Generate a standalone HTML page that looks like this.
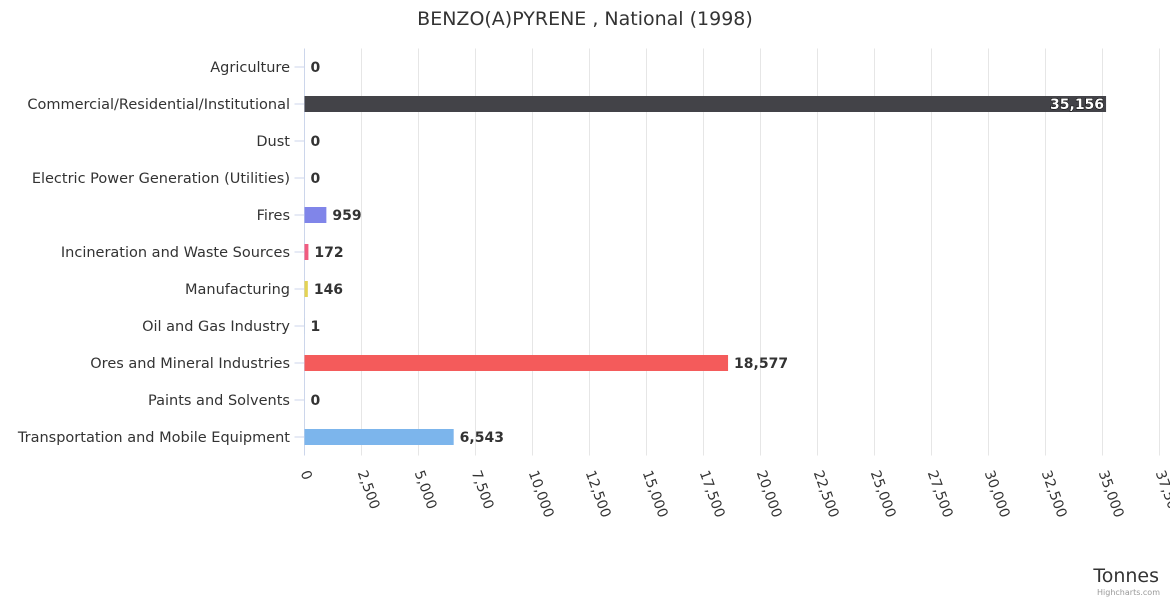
<!DOCTYPE html>
<html><head><meta charset="utf-8"><style>
body{margin:0;background:#fff;font-family:"DejaVu Sans","Liberation Sans",sans-serif}
</style></head><body>
<svg id="c" width="1170" height="600" xmlns="http://www.w3.org/2000/svg" font-family="DejaVu Sans, Liberation Sans, sans-serif">
<text x="585" y="25" text-anchor="middle" font-size="19" fill="#333">BENZO(A)PYRENE , National (1998)</text>
<g id="grid"></g><g id="bars"></g><g id="ylab"></g><g id="xlab"></g>
<text x="1159" y="582" text-anchor="end" font-size="19" fill="#333">Tonnes</text>
<text x="1160" y="595" text-anchor="end" font-size="8" fill="#999">Highcharts.com</text>
</svg>
<script>
const categories=["Agriculture","Commercial/Residential/Institutional","Dust","Electric Power Generation (Utilities)","Fires","Incineration and Waste Sources","Manufacturing","Oil and Gas Industry","Ores and Mineral Industries","Paints and Solvents","Transportation and Mobile Equipment"];
const values=[0,35156,0,0,959,172,146,1,18577,0,6543];
const colors=["#7cb5ec","#434348","#90ed7d","#f7a35c","#8085e9","#f15c80","#e4d354","#2b908f","#f45b5b","#91e8e1","#7cb5ec"];
const ticks=[0,2500,5000,7500,10000,12500,15000,17500,20000,22500,25000,27500,30000,32500,35000,37500];
const NS="http://www.w3.org/2000/svg";
const x0=304.5,x1=1159.5,yTop=48.5,yBot=455.5,xMax=37500;
const xs=v=>x0+(v/xMax)*(x1-x0);
const band=(yBot-yTop)/categories.length;
const yc=i=>yTop+band*(i+0.5);
function mk(t,a,p){const e=document.createElementNS(NS,t);for(const k in a)e.setAttribute(k,a[k]);p.appendChild(e);return e;}
const grid=document.getElementById('grid'),bars=document.getElementById('bars'),yl=document.getElementById('ylab'),xl=document.getElementById('xlab');
ticks.forEach(t=>{
 const l=mk('line',{x1:xs(t),x2:xs(t),y1:yTop,y2:yBot,stroke:t===0?'#ccd6eb':'#e6e6e6','stroke-width':1},grid);
 
 
 const tx=mk('text',{x:xs(t)-4,y:yBot+17,'font-size':14,fill:'#333',transform:`rotate(70 ${xs(t)-4} ${yBot+17})`},xl);
 tx.textContent=t.toLocaleString('en-US');
 
 
});
categories.forEach((c,i)=>{
 const y=yc(i);
 mk('line',{x1:x0-10,x2:x0,y1:y,y2:y,stroke:'#ccd6eb'},grid);
 const t=mk('text',{x:290,y:y+5,'text-anchor':'end','font-size':14.5,fill:'#333'},yl);
 t.textContent=c;
 
 
 const w=xs(values[i])-x0;
 const r=mk('rect',{x:x0,y:y-8,width:Math.max(w,0),height:16,fill:colors[i]},bars);
 
 
 const inside=values[i]>xMax*0.9;
 const lb=mk('text',{x:inside?xs(values[i])-2:xs(values[i])+6,y:y+5,'text-anchor':inside?'end':'start','font-size':14,'font-weight':'bold',fill:inside?'#fff':'#333',stroke:inside?'#000':'none','stroke-width':inside?1:0,'paint-order':'stroke'},bars);
 lb.textContent=values[i].toLocaleString('en-US');
 
 
});
</script>
</body></html>
